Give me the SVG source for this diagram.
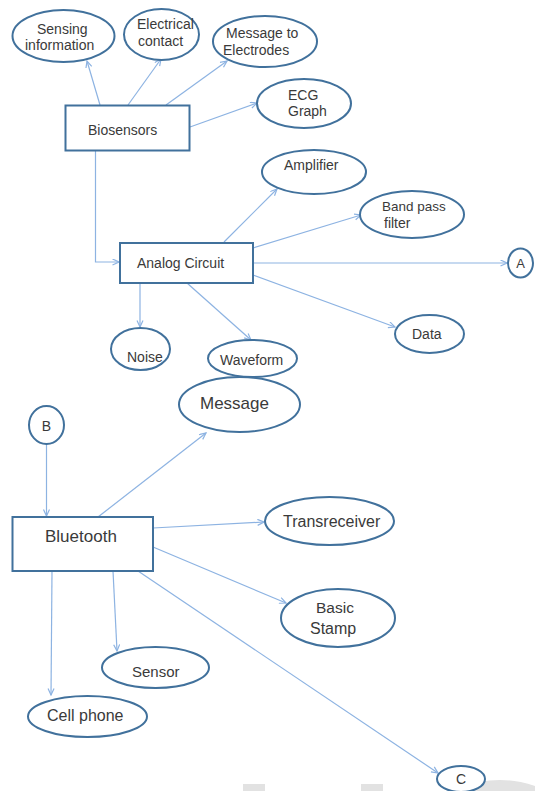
<svg xmlns="http://www.w3.org/2000/svg" width="535" height="791" viewBox="0 0 535 791">
<defs>
<marker id="arr" markerWidth="8" markerHeight="8" refX="7" refY="3.5" orient="auto" markerUnits="userSpaceOnUse">
<path d="M0.5,0.5 L7,3.5 L0.5,6.5" fill="none" stroke="#8DB3E2" stroke-width="1.2"/>
</marker>
<style>
.n{fill:#fff;stroke:#41719C;stroke-width:2}
.t{font-family:"Liberation Sans",Arial,sans-serif;fill:#3a3a3a;font-size:14px}
.c line,.c polyline{stroke:#8DB3E2;stroke-width:1.2;fill:none;marker-end:url(#arr)}
.wm{fill:#e2e2e2}
</style>
</defs>
<rect width="535" height="791" fill="#fff"/>
<g id="watermark">
<rect class="wm" x="243" y="784" width="22" height="7"/>
<rect class="wm" x="361" y="784" width="22" height="7"/>
<circle class="wm" cx="500" cy="886" r="106"/>
</g>
<g class="c" id="connectors">
<line x1="100" y1="105" x2="87" y2="61"/>
<line x1="128" y1="105" x2="161" y2="59"/>
<line x1="166" y1="105" x2="227" y2="61"/>
<line x1="190" y1="127" x2="257" y2="103"/>
<polyline points="95.5,150 95.5,262 119,262"/>
<line x1="224" y1="242" x2="277" y2="189"/>
<line x1="253" y1="248" x2="361" y2="215"/>
<line x1="253" y1="263" x2="507" y2="263"/>
<line x1="253" y1="275" x2="395" y2="327"/>
<line x1="140" y1="283" x2="140" y2="327"/>
<line x1="187" y1="283" x2="251" y2="340"/>
<line x1="46.5" y1="444" x2="46.5" y2="516"/>
<line x1="98" y1="517" x2="206" y2="433"/>
<line x1="153" y1="528" x2="264" y2="522"/>
<line x1="153" y1="547" x2="286" y2="603"/>
<line x1="113" y1="571" x2="117" y2="651"/>
<line x1="52" y1="571" x2="51" y2="695"/>
<line x1="138" y1="571" x2="438" y2="773"/>
</g>
<g id="sensing"><ellipse class="n" cx="63.5" cy="36" rx="51" ry="26"/><text class="t" x="37" y="34">Sensing</text><text class="t" x="25" y="50">information</text></g>
<g id="electrical"><ellipse class="n" cx="161.5" cy="34.5" rx="37.5" ry="25.5"/><text class="t" x="137" y="29">Electrical</text><text class="t" x="138" y="46">contact</text></g>
<g id="message-electrodes"><ellipse class="n" cx="265" cy="41.5" rx="52" ry="25.5"/><text class="t" x="226" y="38">Message to</text><text class="t" x="223" y="55">Electrodes</text></g>
<g id="ecg"><ellipse class="n" cx="304" cy="103.5" rx="47" ry="24.5"/><text class="t" x="288" y="100">ECG</text><text class="t" x="288" y="116">Graph</text></g>
<g id="biosensors"><rect class="n" x="65.5" y="105.5" width="124" height="45"/><text class="t" x="88" y="135">Biosensors</text></g>
<g id="analog"><rect class="n" x="120" y="243" width="133" height="40"/><text class="t" x="137" y="268">Analog Circuit</text></g>
<g id="amplifier"><ellipse class="n" cx="314" cy="172" rx="52" ry="22"/><text class="t" x="284" y="170">Amplifier</text></g>
<g id="bandpass"><ellipse class="n" cx="412" cy="214.5" rx="52" ry="23.5"/><text class="t" x="382" y="211" style="font-size:13.5px">Band pass</text><text class="t" x="384" y="228">filter</text></g>
<g id="nodeA"><ellipse class="n" cx="520.5" cy="263" rx="12.5" ry="14.5"/><text class="t" x="520.5" y="268" text-anchor="middle" style="font-size:13px">A</text></g>
<g id="data"><ellipse class="n" cx="429.5" cy="334" rx="34.5" ry="19"/><text class="t" x="412" y="339">Data</text></g>
<g id="noise"><ellipse class="n" cx="140.5" cy="349" rx="29.5" ry="21"/><text class="t" x="127" y="362">Noise</text></g>
<g id="waveform"><ellipse class="n" cx="252.5" cy="358.5" rx="44.5" ry="18.5"/><text class="t" x="220" y="365">Waveform</text></g>
<g id="message"><ellipse class="n" cx="239.5" cy="404.5" rx="60.5" ry="27.5"/><text class="t" x="200" y="409" style="font-size:17px">Message</text></g>
<g id="nodeB"><ellipse class="n" cx="46.5" cy="425" rx="17.5" ry="19"/><text class="t" x="46.5" y="431" text-anchor="middle" style="font-size:14px">B</text></g>
<g id="bluetooth"><rect class="n" x="12.5" y="517" width="140.5" height="54"/><text class="t" x="45" y="542" style="font-size:17px">Bluetooth</text></g>
<g id="transreceiver"><ellipse class="n" cx="329.5" cy="521" rx="64.5" ry="24"/><text class="t" x="283" y="527" style="font-size:16px">Transreceiver</text></g>
<g id="basicstamp"><ellipse class="n" cx="338" cy="618" rx="57" ry="29"/><text class="t" x="316" y="613" style="font-size:15.5px">Basic</text><text class="t" x="310" y="634" style="font-size:16px">Stamp</text></g>
<g id="sensor"><ellipse class="n" cx="155.5" cy="667.5" rx="53.5" ry="20.5"/><text class="t" x="132" y="677" style="font-size:15px">Sensor</text></g>
<g id="cellphone"><ellipse class="n" cx="87.5" cy="716.5" rx="59.5" ry="20.5"/><text class="t" x="47" y="721" style="font-size:16px">Cell phone</text></g>
<g id="nodeC"><ellipse class="n" cx="461" cy="779" rx="24" ry="13"/><text class="t" x="461" y="784" text-anchor="middle" style="font-size:14px">C</text></g>
</svg>
